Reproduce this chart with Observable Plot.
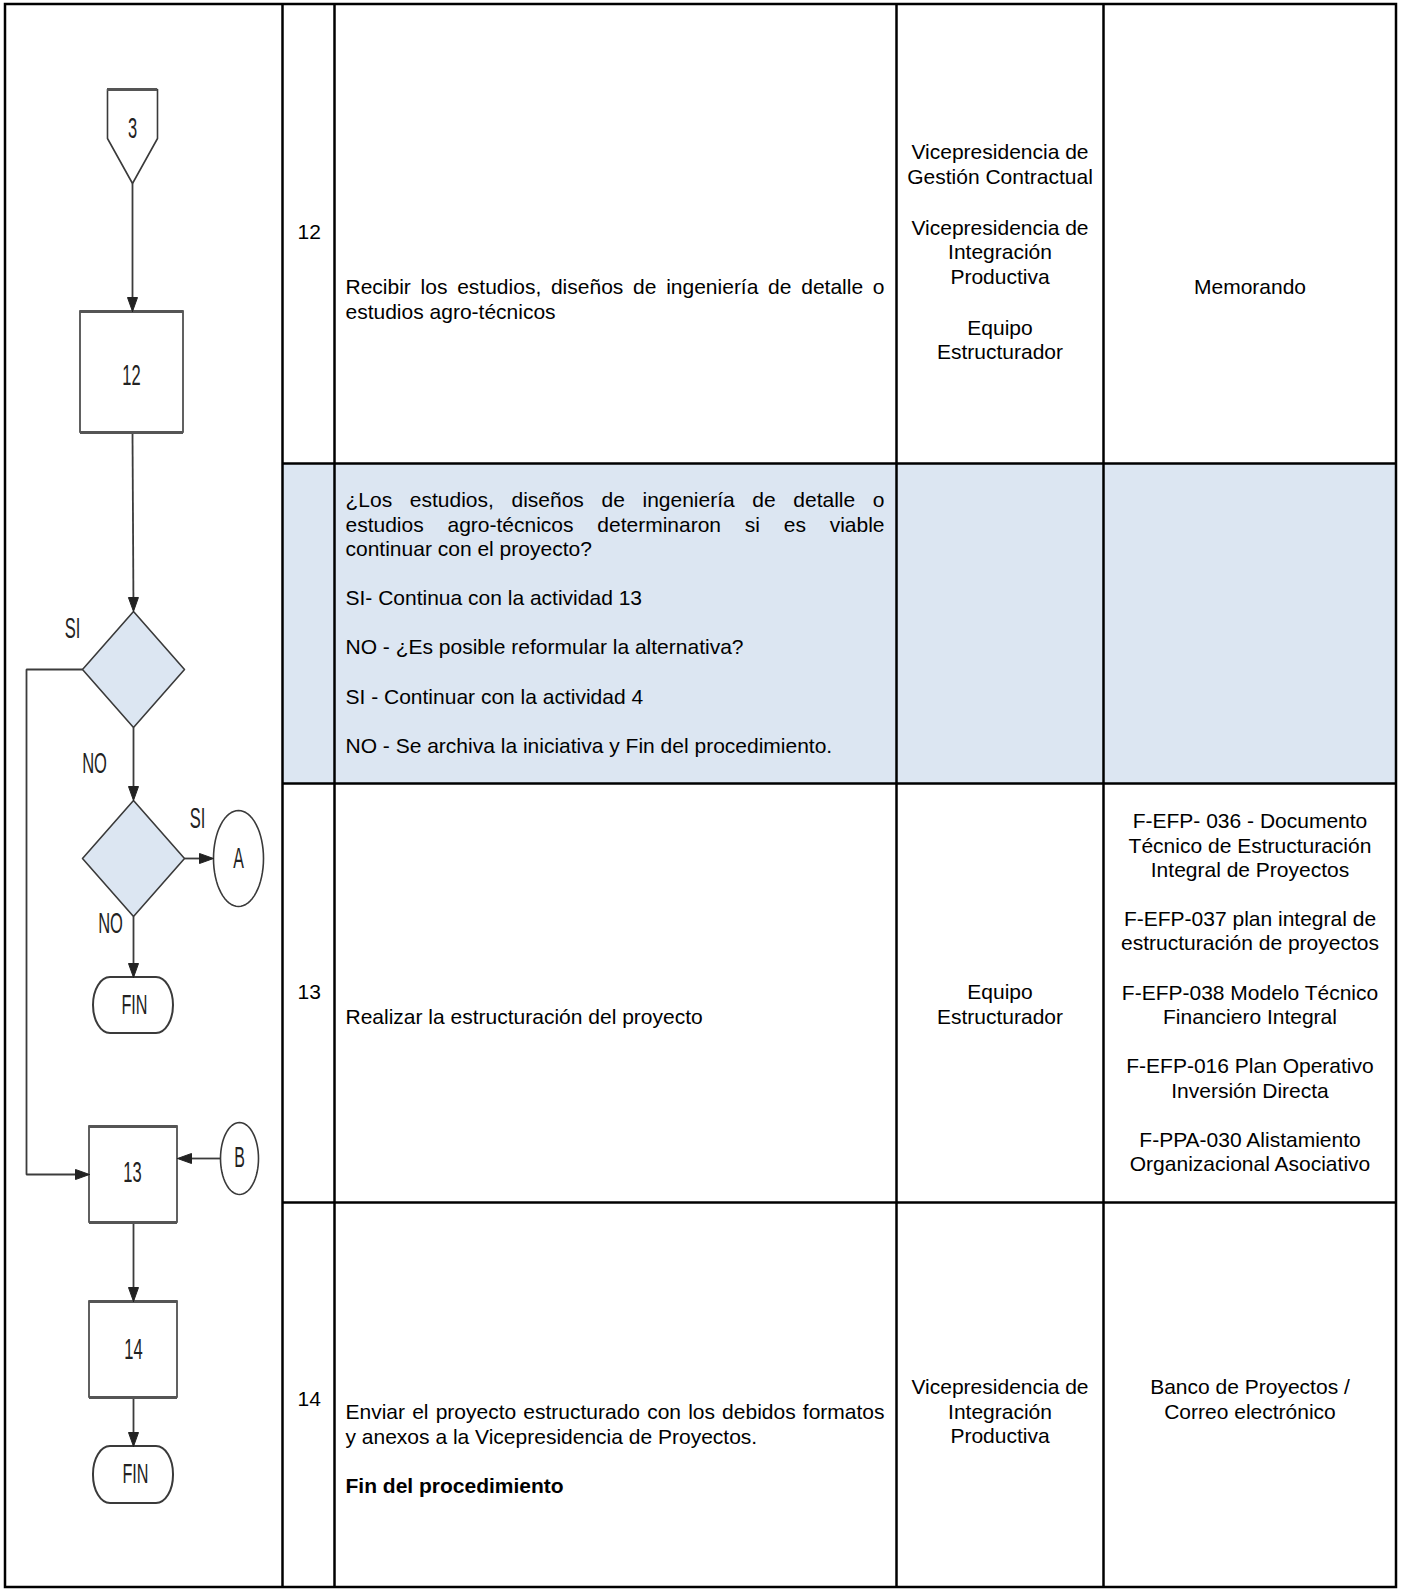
<!DOCTYPE html>
<html><head><meta charset="utf-8">
<script src="https://cdn.jsdelivr.net/npm/d3@7"></script>
<script src="https://cdn.jsdelivr.net/npm/@observablehq/plot@0.6"></script>
<style>html,body{margin:0;padding:0;background:#fff;overflow:hidden}</style>
</head><body><div id="chart"></div>
<script>
// ---------------- DATA ----------------
const activityIds = ["12", "", "13", "14"];

const descriptions = [
  [["Recibir los estudios, diseños de ingeniería de detalle o", "estudios agro-técnicos"]],
  [["¿Los estudios, diseños de ingeniería de detalle o", "estudios agro-técnicos determinaron si es viable", "continuar con el proyecto?"],
   ["SI- Continua con la actividad 13"],
   ["NO - ¿Es posible reformular la alternativa?"],
   ["SI - Continuar con la actividad 4"],
   ["NO - Se archiva la iniciativa y Fin del procedimiento."]],
  [["Realizar la estructuración del proyecto"]],
  [["Enviar el proyecto estructurado con los debidos formatos", "y anexos a la Vicepresidencia de Proyectos."],
   ["Fin del procedimiento"]]
];
const boldParagraphs = ["Fin del procedimiento"];

const responsables = [
  [["Vicepresidencia de", "Gestión Contractual"], ["Vicepresidencia de", "Integración", "Productiva"], ["Equipo", "Estructurador"]],
  [],
  [["Equipo", "Estructurador"]],
  [["Vicepresidencia de", "Integración", "Productiva"]]
];

const registros = [
  [["Memorando"]],
  [],
  [["F-EFP- 036 - Documento", "Técnico de Estructuración", "Integral de Proyectos"],
   ["F-EFP-037 plan integral de", "estructuración de proyectos"],
   ["F-EFP-038 Modelo Técnico", "Financiero Integral"],
   ["F-EFP-016 Plan Operativo", "Inversión Directa"],
   ["F-PPA-030 Alistamiento", "Organizacional Asociativo"]],
  [["Banco de Proyectos /", "Correo electrónico"]]
];

const flowLabels = ["3", "12", "SI", "NO", "SI", "A", "NO", "FIN", "13", "B", "14", "FIN"];

// ---------------- LAYOUT ----------------
const W = 1401, H = 1589;
const FONT = "'Liberation Sans', Arial, Helvetica, sans-serif";
const FLOWFONT = "'Liberation Sans Narrow', 'Liberation Sans', Arial, sans-serif";
const FS = 21, LINE_H = 24.3, PARA = 49.3;
const border = {x1: 5, x2: 1396, y1: 4, y2: 1587};
const colX = [282, 334, 896, 1103];
const rowY = [463, 783, 1202];
const shade = {x1: 282, x2: 1396, y1: 463, y2: 783};
const idX = 297, descX = 345, descRight = 884, respX = 999.5, regX = 1249.5;
const idY = [232, null, 992, 1399];
const descY = [287, 500, 1017, 1412];
const respY = [152, null, 992, 1387];
const respPara = [51.5, PARA, PARA, PARA];
const regY = [287, null, 821, 1387];

function cellLines(paras, y0, paraStep, justify) {
  const out = [];
  let y = y0;
  paras.forEach((p, pi) => {
    if (pi > 0) y += paraStep;
    p.forEach((t, li) => {
      if (li > 0) y += LINE_H;
      out.push({text: t, y, justified: justify && li < p.length - 1, bold: boldParagraphs.includes(t)});
    });
  });
  return out;
}

const descLines = descriptions.flatMap((paras, r) => cellLines(paras, descY[r], PARA, true).map(d => ({...d, x: descX})));
const respLines = responsables.flatMap((paras, r) => paras.length ? cellLines(paras, respY[r], respPara[r], false).map(d => ({...d, x: respX})) : []);
const regLines = registros.flatMap((paras, r) => paras.length ? cellLines(paras, regY[r], PARA, false).map(d => ({...d, x: regX})) : []);
const idLines = activityIds.map((t, r) => ({text: t, x: idX, y: idY[r]})).filter(d => d.text);

// justified lines: place each word so the line fills the column width
const ctx = document.createElement("canvas").getContext("2d");
ctx.font = `${FS}px 'Liberation Sans', Arial, sans-serif`;
const justWords = descLines.filter(d => d.justified).flatMap(d => {
  const words = d.text.split(" ");
  const widths = words.map(w => ctx.measureText(w).width);
  const gap = (descRight - descX - d3.sum(widths)) / (words.length - 1);
  let x = d.x;
  return words.map((w, i) => { const o = {text: w, x, y: d.y}; x += widths[i] + gap; return o; });
});

// flowchart geometry
const pentagon = [[107, 89], [157, 89], [157, 138], [132, 183], [107, 138]];
const boxes = [
  {x1: 80, x2: 183, y1: 311, y2: 432},
  {x1: 89, x2: 177, y1: 1126, y2: 1222},
  {x1: 89, x2: 177, y1: 1301, y2: 1397}
];
const fins = [
  {x1: 93, x2: 173, y1: 977, y2: 1033},
  {x1: 93, x2: 173, y1: 1446, y2: 1503}
];
const diamonds = [
  {cx: 133, cy: 669, hw: 51, hh: 58},
  {cx: 133, cy: 858, hw: 51, hh: 58}
];
const ellipses = [
  {cx: 238, cy: 858, rx: 25, ry: 48},
  {cx: 239, cy: 1158, rx: 19, ry: 36}
];
const connectors = [
  [[132, 183], [132, 311]],
  [[132, 432], [133, 611]],
  [[82, 669], [26, 669], [26, 1174], [89, 1174]],
  [[133, 727], [133, 800]],
  [[184, 858], [213, 858]],
  [[133, 916], [133, 977]],
  [[220, 1158], [177, 1158]],
  [[133, 1222], [133, 1301]],
  [[133, 1397], [133, 1446]]
];
const labelPos = [
  [132, 128, 30], [131, 375, 30], [72, 628, 30], [94, 763, 30], [197, 818, 30], [238, 858, 29],
  [110, 923, 30], [134, 1005, 27], [132, 1172, 30], [239, 1157, 29], [133, 1349, 30], [135, 1474, 27]
];

const polyPts = (pts, id) => [...pts, pts[0]].map(([x, y]) => ({x, y, id}));
const diamondPts = (d, id) => polyPts([[d.cx, d.cy - d.hh], [d.cx + d.hw, d.cy], [d.cx, d.cy + d.hh], [d.cx - d.hw, d.cy]], id);
const ellipsePts = (e, id) => d3.range(0, 65).map(i => {
  const a = (i / 64) * 2 * Math.PI;
  return {x: e.cx + e.rx * Math.cos(a), y: e.cy + e.ry * Math.sin(a), id};
});
const HEAD_L = 14, HEAD_W = 5;
const connectorPts = connectors.flatMap((c, i) => {
  const pts = c.map(p => [...p]);
  const [ax, ay] = pts[pts.length - 2], [bx, by] = pts[pts.length - 1];
  const len = Math.hypot(bx - ax, by - ay), ux = (bx - ax) / len, uy = (by - ay) / len;
  pts[pts.length - 1] = [bx - ux * (HEAD_L - 2), by - uy * (HEAD_L - 2)];
  return pts.map(([x, y]) => ({x, y, id: "c" + i}));
});
const arrowPts = connectors.flatMap((c, i) => {
  const [ax, ay] = c[c.length - 2], [bx, by] = c[c.length - 1];
  const len = Math.hypot(bx - ax, by - ay), ux = (bx - ax) / len, uy = (by - ay) / len;
  const nx = -uy, ny = ux;
  const baseX = bx - ux * HEAD_L, baseY = by - uy * HEAD_L;
  return polyPts([[bx, by], [baseX + nx * HEAD_W, baseY + ny * HEAD_W], [baseX - nx * HEAD_W, baseY - ny * HEAD_W]], "a" + i);
});
const shapePts = [
  ...polyPts(pentagon, "p"),
  ...diamondPts(diamonds[0], "d0"), ...diamondPts(diamonds[1], "d1")
];
const ellPts = [...ellipsePts(ellipses[0], "e0"), ...ellipsePts(ellipses[1], "e1")];
const boxEdges = boxes.flatMap(b => [{y: b.y1, x1: b.x1, x2: b.x2}, {y: b.y2, x1: b.x1, x2: b.x2}]);
const flowText = flowLabels.map((t, i) => ({text: t, x: labelPos[i][0], y: labelPos[i][1], size: labelPos[i][2]}));

const STROKE = "#3a3a3a";
const LW = 2.5;
const txt = {x: "x", y: "y", text: "text", lineAnchor: "middle", fontSize: FS, fontFamily: FONT, fill: "#000"};

const svg = Plot.plot({
  width: W, height: H,
  margin: 0,
  x: {domain: [0, W], range: [0, W], axis: null},
  y: {domain: [0, H], range: [0, H], axis: null},
  style: {background: "#fff", fontFamily: FONT},
  marks: [
    // table
    Plot.rect([shade], {x1: "x1", x2: "x2", y1: "y1", y2: "y2", fill: "#dce6f2"}),
    Plot.ruleX(colX, {x: d => d, y1: border.y1, y2: border.y2, stroke: "#000", strokeWidth: LW}),
    Plot.ruleY(rowY, {y: d => d, x1: colX[0], x2: border.x2, stroke: "#000", strokeWidth: LW}),
    Plot.rect([border], {x1: "x1", x2: "x2", y1: "y1", y2: "y2", fill: "none", stroke: "#000", strokeWidth: LW}),
    Plot.text(idLines, {...txt, textAnchor: "start"}),
    Plot.text(descLines.filter(d => !d.justified && !d.bold), {...txt, textAnchor: "start"}),
    Plot.text(descLines.filter(d => d.bold), {...txt, textAnchor: "start", fontWeight: "bold"}),
    Plot.text(justWords, {...txt, textAnchor: "start"}),
    Plot.text(respLines, {...txt, textAnchor: "middle"}),
    Plot.text(regLines, {...txt, textAnchor: "middle"}),
    // flowchart
    Plot.line(connectorPts, {x: "x", y: "y", z: "id", stroke: "#3c3c3c", strokeWidth: 1.8, strokeLinejoin: "miter", strokeLinecap: "butt"}),
    Plot.line(shapePts.filter(d => d.id === "p"), {x: "x", y: "y", z: "id", fill: "#fff", stroke: STROKE, strokeWidth: 1.6}),
    Plot.line(shapePts.filter(d => d.id !== "p"), {x: "x", y: "y", z: "id", fill: "#dce6f2", stroke: STROKE, strokeWidth: 1.6}),
    Plot.line(ellPts, {x: "x", y: "y", z: "id", fill: "#fff", stroke: STROKE, strokeWidth: 1.6}),
    Plot.rect(boxes, {x1: "x1", x2: "x2", y1: "y1", y2: "y2", fill: "#fff", stroke: STROKE, strokeWidth: 1.6}),
    Plot.ruleY(boxEdges, {y: "y", x1: "x1", x2: "x2", stroke: "#555", strokeWidth: 3}),
    Plot.ruleY([{y: pentagon[0][1], x1: pentagon[0][0], x2: pentagon[1][0]}], {y: "y", x1: "x1", x2: "x2", stroke: "#555", strokeWidth: 3}),
    Plot.rect(fins, {x1: "x1", x2: "x2", y1: "y1", y2: "y2", rx: 17, ry: 28, fill: "#fff", stroke: STROKE, strokeWidth: 2}),
    Plot.line(arrowPts, {x: "x", y: "y", z: "id", fill: "#222", stroke: "#222", strokeWidth: 1}),
    Plot.text(flowText, {x: "x", y: "y", text: "text", fontSize: "size", textAnchor: "middle", lineAnchor: "middle", fontFamily: FLOWFONT, fill: "#222", ariaDescription: "flowtext"})
  ]
});

document.getElementById("chart").append(svg);

// condensed flowchart lettering
svg.querySelectorAll('g[aria-description="flowtext"] text').forEach(t => {
  const tr = t.getAttribute("transform") || "";
  const x = +t.getAttribute("x") || 0, y = +t.getAttribute("y") || 0;
  const s = t.textContent === "FIN" ? 0.6 : 0.55;
  t.setAttribute("transform", `${tr} translate(${x},${y}) scale(${s},1) translate(${-x},${-y})`);
});
</script>
</body></html>
